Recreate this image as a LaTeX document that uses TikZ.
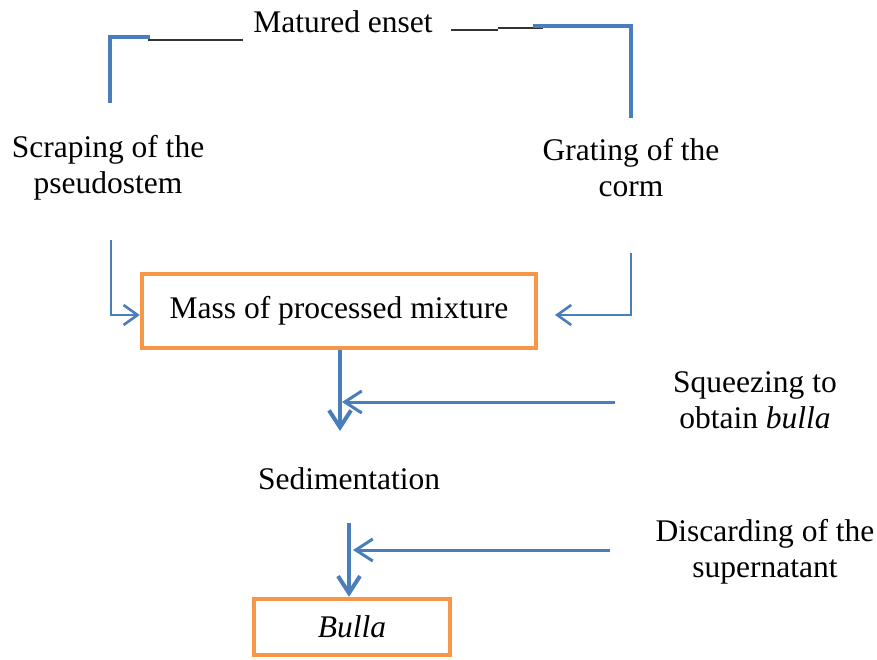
\documentclass[tikz,border=0pt]{standalone}
\usepackage{fontspec}
\setmainfont{Liberation Serif}
\usetikzlibrary{arrows.meta}
\definecolor{lblue}{HTML}{4A7EBB}
\definecolor{lorange}{HTML}{F79646}
\definecolor{dline}{HTML}{333333}
\begin{document}
\begin{tikzpicture}[x=1pt,y=-1pt,
  txt/.style={font=\fontsize{31.5}{36}\selectfont, align=center, inner sep=0pt},
  obox/.style={draw=lorange, line width=4.5pt, inner sep=0pt, font=\fontsize{31.5}{36}\selectfont},
  bl/.style={draw=lblue, line width=3pt},
  blk/.style={draw=dline, line width=1.6pt},
  arr/.style={bl, -{Straight Barb[length=17pt,width=22pt]}},
  sarr/.style={draw=lblue, line width=2.6pt, -{Straight Barb[length=14pt,width=20pt]}}]
\fill[white] (0,0) rectangle (877,660);
\useasboundingbox (0,0) rectangle (877,660);
% nodes
\node[txt] (enset) at (343,22) {Matured enset};
\node[txt] (scrape) at (108,168) {Scraping of the\\pseudostem};
\node[txt] (grate) at (631,168) {Grating of the\\corm};
\node[obox, minimum width=394pt, minimum height=74pt] (mass) at (339,311) {Mass of processed mixture};
\node[txt] (squeeze) at (755,400) {Squeezing to\\obtain \textit{bulla}};
\node[txt] (sed) at (349,479) {Sedimentation};
\node[txt] (discard) at (765,552) {Discarding of the\\supernatant};
\node[obox, minimum width=196pt, minimum height=56pt] (bulla) at (352,627) {\textit{Bulla}};
% coordinates
\coordinate (s1) at (110,103);
\coordinate (s2) at (110,37);
\coordinate (s3) at (150,37);
\coordinate (e1) at (148,40);
\coordinate (e2) at (243,40);
\coordinate (e3) at (451,30);
\coordinate (e4) at (498,30);
\coordinate (e5) at (498,28);
\coordinate (e6) at (543,28);
\coordinate (g1) at (533,26);
\coordinate (g2) at (631,26);
\coordinate (g3) at (631,118);
\coordinate (sm1) at (111,240);
\coordinate (gm1) at (631,253);
\coordinate (gm2) at (631,315);
\coordinate (gm3) at (555,315);
\coordinate (q1) at (615,402);
\coordinate (q2) at (342,402);
\coordinate (ms) at (340,431);
\coordinate (sd1) at (349,523);
\coordinate (d1) at (610,550);
\coordinate (d2) at (353,550);
% connectors
\draw[bl, line width=4pt] (s1) -- (s2) -- (s3);
\draw[blk] (e1) -- (e2);
\draw[blk] (e3) -- (e4);
\draw[blk] (e5) -- (e6);
\draw[bl, line width=4pt] (g1) -- (g2) -- (g3);
\draw[sarr] (sm1) |- (mass.west |- 0,315);
\draw[sarr] (gm1) -- (gm2) -- (gm3);
\draw[arr, line width=4pt] (mass.south -| 340,0) -- (ms);
\draw[arr] (q1) -- (q2);
\draw[arr, line width=4pt] (sd1) -- (sd1 |- bulla.north);
\draw[arr] (d1) -- (d2);
\end{tikzpicture}
\end{document}
